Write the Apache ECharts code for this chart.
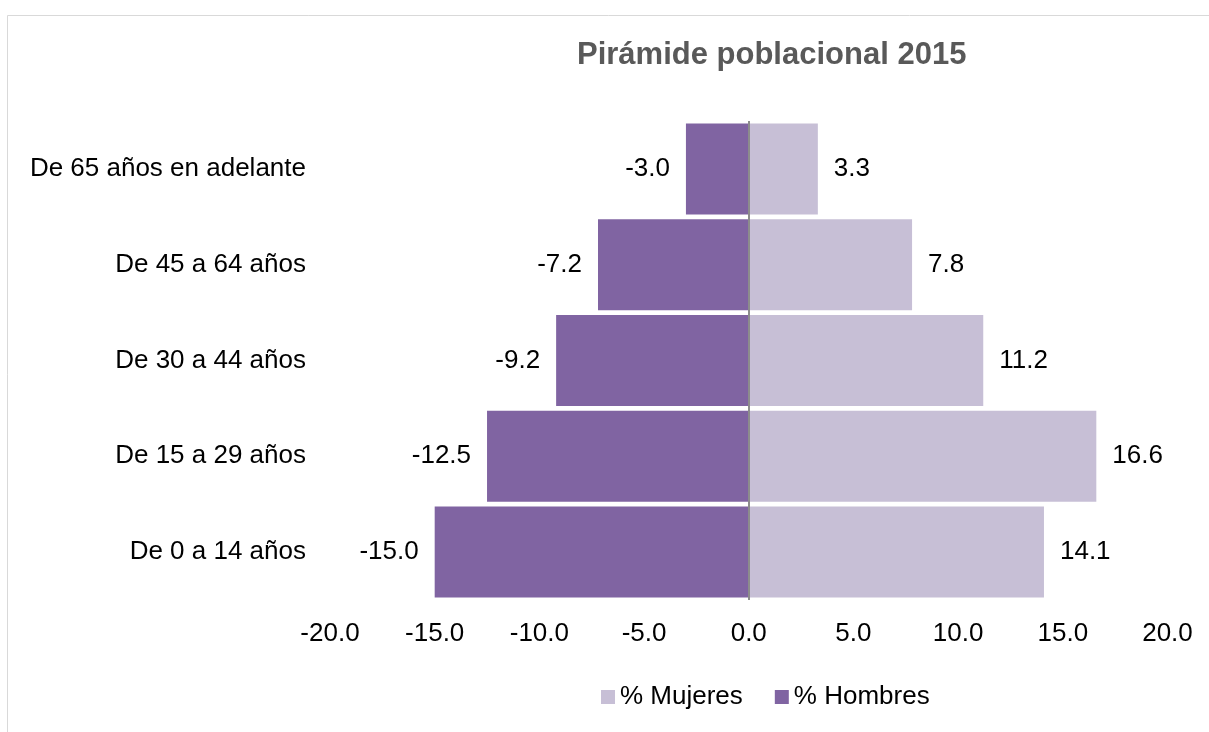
<!DOCTYPE html>
<html>
<head>
<meta charset="utf-8">
<title>Pirámide poblacional 2015</title>
<script src="https://cdn.jsdelivr.net/npm/echarts@6/dist/echarts.min.js"></script>
<style>
  html, body { margin: 0; padding: 0; background: #fff; }
  #chart { width: 1209px; height: 732px; }
</style>
</head>
<body>
<div id="chart"></div>
<script>
// grupos de edad (de abajo hacia arriba)
const ageGroups = [
  "De 0 a 14 años",
  "De 15 a 29 años",
  "De 30 a 44 años",
  "De 45 a 64 años",
  "De 65 años en adelante",
];
const hombres = [-15.0, -12.5, -9.2, -7.2, -3.0];
const mujeres = [14.1, 16.6, 11.2, 7.8, 3.3];
const legendNames = ["% Mujeres", "% Hombres"];

const font = "'Liberation Sans', Arial, sans-serif";
const mychart = echarts.init(document.getElementById("chart"));

mychart.setOption({
  animation: false,
  backgroundColor: "#fff",
  textStyle: { fontFamily: font },
  graphic: [
    {
      // marco gris claro
      type: "rect",
      shape: { x: 7.5, y: 15.5, width: 1300, height: 800 },
      style: { fill: "none", stroke: "#d9d9d9", lineWidth: 1 },
      silent: true,
    },
  ],
  title: {
    text: "Pirámide poblacional 2015",
    left: 572,
    top: 35,
    textStyle: {
      fontFamily: font,
      fontSize: 31,
      fontWeight: "bold",
      color: "#595959",
    },
  },
  legend: {
    data: legendNames,
    left: 596,
    top: 679,
    icon: "rect",
    itemWidth: 14,
    itemHeight: 14,
    itemGap: 32,
    textStyle: { fontFamily: font, fontSize: 26, color: "#000" },
  },
  grid: {
    left: 330,
    right: 41.5,
    top: 121,
    bottom: 132,
  },
  xAxis: {
    type: "value",
    min: -20,
    max: 20,
    interval: 5,
    axisLine: { show: false },
    axisTick: { show: false },
    splitLine: { show: false },
    axisLabel: {
      margin: 21,
      fontFamily: font,
      fontSize: 26,
      color: "#000",
      formatter: (v) => v.toFixed(1),
    },
  },
  yAxis: {
    type: "category",
    data: ageGroups,
    axisLine: { show: false, onZero: false },
    axisTick: { show: false },
    splitLine: { show: false },
    axisLabel: {
      margin: 24,
      fontFamily: font,
      fontSize: 26,
      color: "#000",
    },
  },
  series: [
    {
      name: "% Hombres",
      type: "bar",
      stack: "total",
      barCategoryGap: "5%",
      data: hombres,
      itemStyle: { color: "#8064a2" },
      label: {
        show: true,
        position: "left",
        distance: 16,
        fontFamily: font,
        fontSize: 26,
        color: "#000",
        formatter: (p) => p.value.toFixed(1),
      },
    },
    {
      name: "% Mujeres",
      type: "bar",
      stack: "total",
      barCategoryGap: "5%",
      data: mujeres,
      itemStyle: { color: "#c7bfd6" },
      label: {
        show: true,
        position: "right",
        distance: 16,
        fontFamily: font,
        fontSize: 26,
        color: "#000",
        formatter: (p) => p.value.toFixed(1),
      },
      markLine: {
        silent: true,
        symbol: "none",
        label: { show: false },
        lineStyle: { color: "#8c8c8c", width: 2, type: "solid" },
        data: [{ xAxis: 0 }],
      },
    },
  ],
});
</script>
</body>
</html>
